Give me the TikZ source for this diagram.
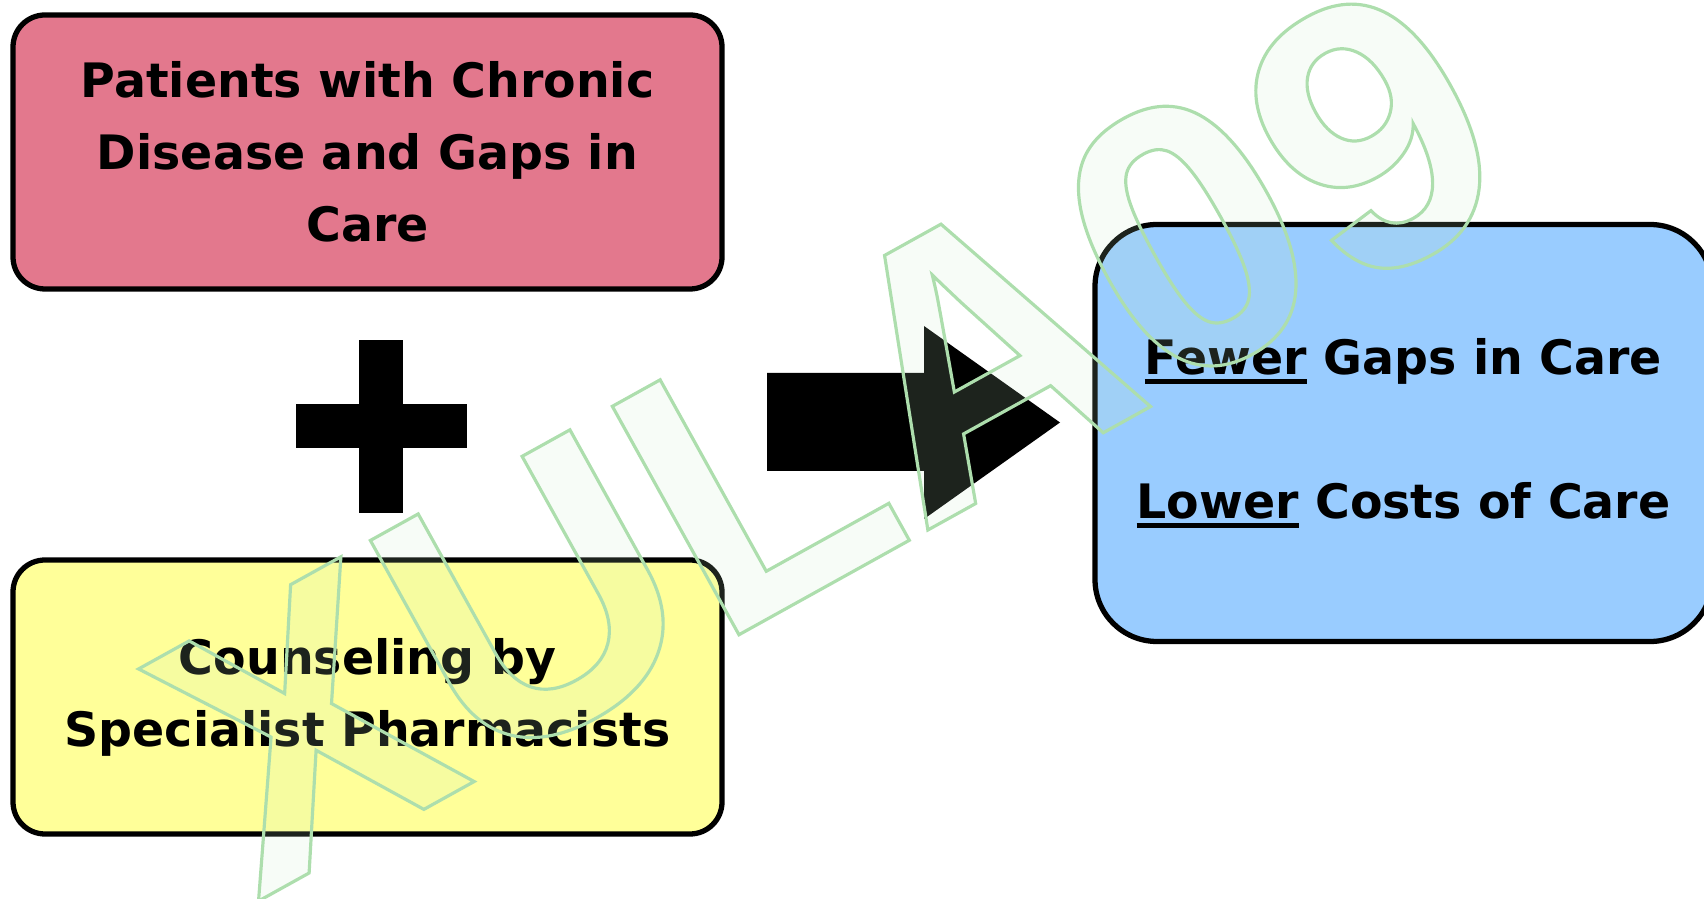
\documentclass[tikz,border=0pt]{standalone}
\usepackage{fontspec}
\setmainfont{DejaVu Sans}
\newfontfamily\markfont{Liberation Sans}
\usepackage{xcolor}
\usepackage{tikz}
\usetikzlibrary{positioning}

\definecolor{chronicpink}{HTML}{E3788D}
\definecolor{counselyellow}{HTML}{FFFF99}
\definecolor{outcomeblue}{HTML}{99CCFF}
\definecolor{markfill}{HTML}{C8EBC8}

\newcommand\heavyline[1]{\setbox0\hbox{#1}\rlap{\rule[-2.7pt]{\wd0}{1.4pt}}\box0\relax}

\tikzset{
  box/.style={draw=black, line width=1.5pt, rounded corners=0.32cm, align=center,
    inner sep=0pt, font=\bfseries\fontsize{13.5}{20.5}\selectfont},
  sidebox/.style={box, minimum width=7.09cm, minimum height=2.74cm},
}

\begin{document}
\begin{tikzpicture}
	\useasboundingbox (0,0) rectangle (17.04,8.98);
	\node [sidebox, fill=chronicpink] (patients) at (3.675,7.46)
		{Patients with Chronic\\Disease and Gaps in\\Care};
	\node [sidebox, fill=counselyellow] (counsel) at (3.675,2.01)
		{Counseling by\\Specialist Pharmacists};
	\node [box, fill=outcomeblue, rounded corners=0.62cm, minimum width=6.17cm, minimum height=4.17cm] (outcome) at (14.035,4.65)
		{\heavyline{Fewer} Gaps in Care\\[20.5pt]\heavyline{Lower} Costs of Care};
	% plus sign
	\fill (2.96,4.50) rectangle (4.67,4.94);
	\fill (3.59,3.85) rectangle (4.03,5.58);
	% big arrow
	\fill (7.67,4.27) -- (7.67,5.25) -- (9.24,5.25) -- (9.24,5.72) -- (10.60,4.755)
		-- (9.24,3.79) -- (9.24,4.27) -- cycle;
	% watermark
	\node [rotate=29, anchor=base west, inner sep=0pt, text=markfill, text opacity=0.15] (mark) at (2.55,-0.05)
		{\markfont\bfseries\fontsize{108}{108}\selectfont\pgfsetstrokeopacity{1}%
		\special{pdf:literal direct 0.68 0.87 0.68 RG 0.9 w 2 Tr}XULA09\special{pdf:literal direct 0 Tr}};
\end{tikzpicture}
\end{document}
